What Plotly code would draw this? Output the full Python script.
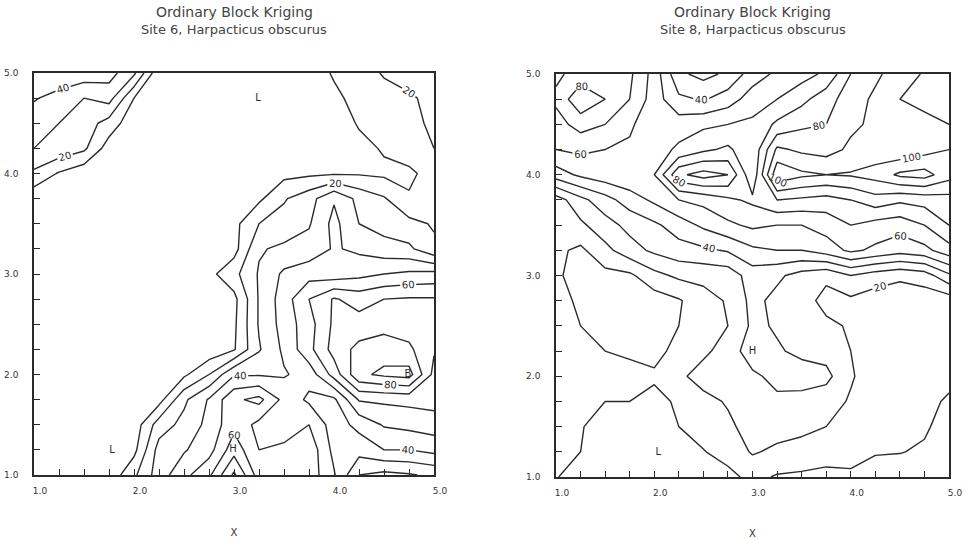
import plotly.graph_objects as go

# ---- grid (kriging block centres) ----
grid_x = [1.0, 1.25, 1.5, 1.75, 2.0, 2.25, 2.5, 2.75, 3.0, 3.25, 3.5, 3.75, 4.0, 4.25, 4.5, 4.75, 5.0]
grid_y = [1.0, 1.25, 1.5, 1.75, 2.0, 2.25, 2.5, 2.75, 3.0, 3.25, 3.5, 3.75, 4.0, 4.25, 4.5, 4.75, 5.0]

# Site 6 estimates, rows listed from y=5.0 (top) down to y=1.0 (bottom)
site6_rows_top_down = [
    [50, 48, 46, 44, 32, 2, 0, 0, 0, 0, 2, 5, 11, 15, 21, 23, 25],
    [41, 36, 30, 34, 10, 0, 0, 0, 0, 0, 0, 3, 8, 13, 16, 19, 22],
    [34, 30, 25, 16, 3, 0, 0, 0, 0, 0, 0, 1, 4, 11, 14, 17, 22],
    [30, 27, 22, 5, 0, 0, 0, 0, 0, 0, 0, 1, 3, 7, 11, 15, 20],
    [18, 9, 3, 0, 0, 0, 0, 0, 0, 3, 7, 8, 9, 9, 8, 8, 14],
    [3, 0, 0, 0, 0, 0, 0, 0, 0, 8, 19, 26, 39, 27, 21, 11, 13],
    [0, 0, 0, 0, 0, 0, 0, 0, 7, 20, 24, 29, 43, 30, 26, 23, 19],
    [0, 0, 0, 0, 0, 0, 0, 0, 6, 29, 32, 34, 41, 38, 34, 32, 22],
    [0, 0, 0, 0, 0, 0, 0, 7, 17, 31, 42, 46, 44, 47, 50, 52, 53],
    [0, 0, 0, 0, 0, 0, 0, 2, 7, 31, 45, 60, 71, 66, 70, 71, 71],
    [0, 0, 0, 0, 0, 0, 0, 0, 8, 31, 44, 56, 72, 74, 76, 75, 73],
    [0, 0, 0, 0, 0, 0, 0, 3, 9, 29, 42, 57, 74, 83, 86, 82, 71],
    [0, 0, 0, 0, 0, 0, 8, 20, 39, 39, 39, 44, 64, 88, 92, 94, 67],
    [0, 0, 0, 0, 0, 6, 28, 41, 58, 63, 47, 38, 38, 61, 62, 63, 64],
    [0, 0, 0, 0, 4, 25, 33, 43, 57, 47, 45, 50, 35, 43, 51, 53, 55],
    [0, 0, 0, 1, 7, 34, 39, 46, 66, 50, 52, 57, 37, 34, 40, 40, 43],
    [0, 0, 0, 3, 18, 35, 47, 58, 82, 55, 55, 56, 41, 20, 17, 19, 22],
]

# Site 8 estimates, rows listed from y=5.0 (top) down to y=1.0 (bottom)
site8_rows_top_down = [
    [68, 74, 76, 72, 56, 32, 27, 32, 45, 52, 56, 62, 80, 88, 95, 101, 106],
    [72, 88, 80, 70, 55, 42, 39, 45, 55, 60, 67, 76, 85, 92, 100, 104, 106],
    [66, 74, 70, 62, 52, 55, 58, 60, 62, 72, 78, 80, 88, 92, 95, 96, 100],
    [60, 62, 60, 58, 55, 62, 68, 72, 62, 92, 88, 86, 92, 94, 92, 96, 100],
    [45, 52, 56, 58, 60, 88, 94, 90, 62, 108, 102, 100, 101, 104, 112, 114, 104],
    [15, 27, 36, 45, 52, 60, 63, 68, 72, 80, 78, 76, 80, 86, 82, 84, 86],
    [12, 18, 26, 33, 38, 45, 52, 58, 62, 60, 60, 64, 70, 66, 64, 70, 80],
    [12, 8, 17, 26, 32, 36, 38, 41, 48, 50, 50, 55, 62, 58, 54, 57, 66],
    [12, 5, 7, 8, 17, 22, 23, 24, 35, 32, 26, 22, 30, 25, 22, 25, 38],
    [12, 9, 4, 4, 5, 9, 16, 21, 33, 27, 24, 17, 18, 15, 14, 14, 14],
    [14, 10, 3, 3, 4, 10, 17, 20, 32, 29, 25, 22, 19, 16, 15, 14, 14],
    [15, 13, 10, 9, 8, 12, 18, 24, 36, 31, 28, 26, 20, 16, 15, 14, 14],
    [15, 14, 13, 12, 11, 18, 24, 26, 28, 33, 34, 33, 21, 15, 14, 13, 12],
    [14, 12, 10, 10, 8, 11, 17, 21, 26, 28, 27, 24, 19, 14, 13, 12, 9],
    [13, 10.5, 7, 5, 6, 10, 14, 18, 24, 24, 22, 20, 16, 14, 13, 11, 7],
    [12, 10, 5, 3, 2, 4, 9.5, 14, 21, 18, 17, 13, 12, 10.5, 10.3, 9, 5],
    [10.5, 6, 3, 2, 1, 2, 4, 7, 13, 9, 8, 8, 9, 7, 6, 5, 4],
]

# extreme markers printed by the mapping program
site6_mark_x = [3.24, 1.78, 2.99, 4.74]
site6_mark_y = [4.75, 1.24, 1.25, 2.0]
site6_mark_text = ["L", "L", "H", "B"]
site8_mark_x = [2.04, 3.0]
site8_mark_y = [1.24, 2.25]
site8_mark_text = ["L", "H"]

titles = [("Ordinary Block Kriging", "Site 6, Harpacticus obscurus"),
          ("Ordinary Block Kriging", "Site 8, Harpacticus obscurus")]

site6_z = site6_rows_top_down[::-1]
site8_z = site8_rows_top_down[::-1]

INK = "#2b2b2b"
FONT = "DejaVu Sans"
line_scale = [[0, INK], [1, INK]]

fig = go.Figure()


def add_site(z, xa, ya, mx, my, mt):
    # labelled levels (20, 40, 60, ...)
    fig.add_trace(go.Contour(
        x=grid_x, y=grid_y, z=z, xaxis=xa, yaxis=ya,
        autocontour=False,
        contours=dict(start=20, end=120, size=20, coloring="lines",
                      showlabels=True,
                      labelfont=dict(family=FONT, size=10, color=INK)),
        colorscale=line_scale, showscale=False,
        line=dict(width=1.4, smoothing=0), hoverinfo="skip"))
    # intermediate levels (10, 30, 50, ...)
    fig.add_trace(go.Contour(
        x=grid_x, y=grid_y, z=z, xaxis=xa, yaxis=ya,
        autocontour=False,
        contours=dict(start=10, end=110, size=20, coloring="lines",
                      showlabels=False),
        colorscale=line_scale, showscale=False,
        line=dict(width=1.4, smoothing=0), hoverinfo="skip"))
    fig.add_trace(go.Scatter(
        x=mx, y=my, xaxis=xa, yaxis=ya, mode="text", text=mt,
        textfont=dict(family=FONT, size=10, color=INK),
        hoverinfo="skip", showlegend=False))


add_site(site6_z, "x", "y", site6_mark_x, site6_mark_y, site6_mark_text)
add_site(site8_z, "x2", "y2", site8_mark_x, site8_mark_y, site8_mark_text)

tick_common = dict(
    range=[1, 5], showgrid=False, zeroline=False,
    ticks="inside", ticklen=6, tickwidth=1.2, tickcolor=INK,
    tick0=1, dtick=1, tickformat=".1f",
    tickfont=dict(family=FONT, size=9, color="#333"),
    minor=dict(tick0=1, dtick=0.25, ticks="inside", ticklen=6,
               tickwidth=1.1, tickcolor=INK, showgrid=False),
)
axis_common = dict(showline=True, linecolor=INK, linewidth=1.5, mirror=True,
                   automargin=False, **tick_common)
mirror_common = dict(showline=False, showticklabels=False, automargin=False, **tick_common)

left_dom_x = [34 / 972, 434 / 972]
right_dom_x = [556 / 972, 949 / 972]
left_dom_y = [(539 - 475) / 539, (539 - 73) / 539]
right_dom_y = [(539 - 477) / 539, (539 - 74) / 539]

xtitle = dict(text="X", font=dict(family=FONT, size=10, color="#333"), standoff=34)

fig.update_layout(
    width=972, height=539,
    margin=dict(l=0, r=0, t=0, b=0, autoexpand=False),
    paper_bgcolor="white", plot_bgcolor="white",
    showlegend=False,
    xaxis=dict(domain=left_dom_x, anchor="y", title=xtitle,
               ticklabelstandoff=6, ticklabelshift=6, **axis_common),
    yaxis=dict(domain=left_dom_y, anchor="x", ticklabelstandoff=12, **axis_common),
    xaxis2=dict(domain=right_dom_x, anchor="y2", title=xtitle,
                ticklabelstandoff=6, ticklabelshift=6, **axis_common),
    yaxis2=dict(domain=right_dom_y, anchor="x2", ticklabelstandoff=12, **axis_common),
    # tick-only copies on the top and right edges of each frame
    xaxis3=dict(overlaying="x", anchor="y", side="top", **mirror_common),
    yaxis3=dict(overlaying="y", anchor="x", side="right", **mirror_common),
    xaxis4=dict(overlaying="x2", anchor="y2", side="top", **mirror_common),
    yaxis4=dict(overlaying="y2", anchor="x2", side="right", **mirror_common),
)

for dom, (t1, t2) in zip([left_dom_x, right_dom_x], titles):
    cx = (dom[0] + dom[1]) / 2
    fig.add_annotation(x=cx, y=1 - 12 / 539, xref="paper", yref="paper",
                       text=t1, showarrow=False, xanchor="center", yanchor="middle",
                       font=dict(family=FONT, size=14, color="#444"))
    fig.add_annotation(x=cx, y=1 - 30 / 539, xref="paper", yref="paper",
                       text=t2, showarrow=False, xanchor="center", yanchor="middle",
                       font=dict(family=FONT, size=13, color="#444"))

fig.write_html("out.html")
